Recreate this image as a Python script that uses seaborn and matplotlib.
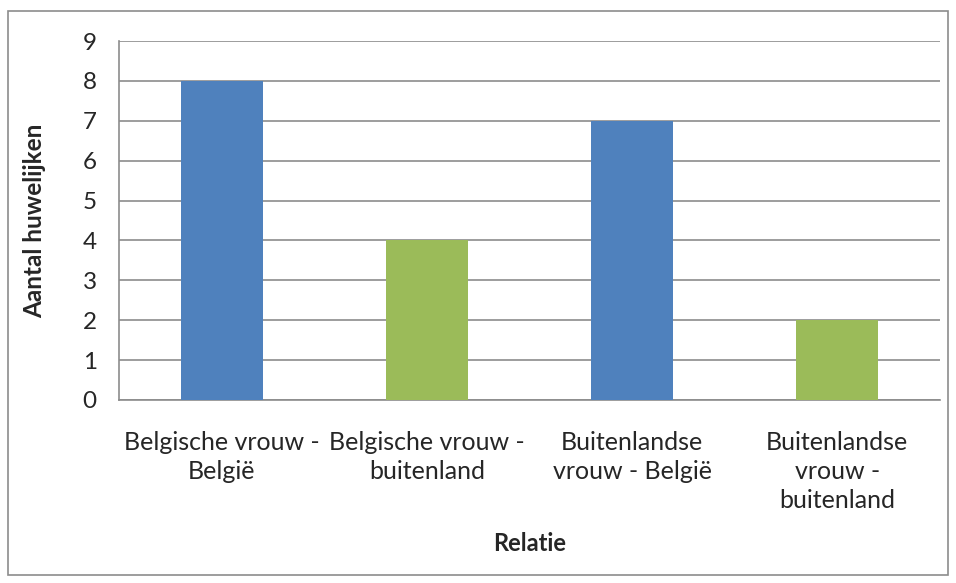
import matplotlib
matplotlib.use("Agg")
import matplotlib.pyplot as plt
import seaborn as sns
from matplotlib.patches import Rectangle

categories = ["Belgische vrouw -\nBelgië", "Belgische vrouw -\nbuitenland",
              "Buitenlandse\nvrouw - België", "Buitenlandse\nvrouw -\nbuitenland"]
values = [8, 4, 7, 2]
colors = ["#4F81BD", "#9BBB59", "#4F81BD", "#9BBB59"]

sns.set_style("white")
plt.rcParams['font.family'] = ['Lato', 'DejaVu Sans']

fig = plt.figure(figsize=(9.56, 5.83), dpi=100)
ax = fig.add_axes([119/956, 1-400/583, (940-119)/956, (400-41)/583])

sns.barplot(x=categories, y=values, hue=categories, palette=colors,
            width=0.4, legend=False, saturation=1, linewidth=0, ax=ax, zorder=3)

ax.set_ylim(0, 9)
ax.set_yticks(range(0, 10))
ax.yaxis.grid(True, color="#8c8c8c", linewidth=1.2, zorder=0)
ax.set_axisbelow(True)
for s in ["top", "right"]:
    ax.spines[s].set_visible(False)
for s in ["left", "bottom"]:
    ax.spines[s].set_color("#8c8c8c")
    ax.spines[s].set_linewidth(1.2)
ax.tick_params(axis="y", length=8, width=1.2, color="#8c8c8c", labelsize=17.5, pad=8)
ax.tick_params(axis="x", length=0, labelsize=18, pad=22)
for lbl in ax.get_xticklabels():
    lbl.set_linespacing(1.33)

ax.set_ylabel("Aantal huwelijken", fontsize=17.5, fontweight="bold", labelpad=26)
ax.set_xlabel("Relatie", fontsize=17, fontweight="bold", labelpad=14)

fig.patches.append(Rectangle((8/956, 1-575/583), (948-8)/956, (575-11)/583,
                             transform=fig.transFigure, fill=False,
                             edgecolor="#8c8c8c", linewidth=1.2))

fig.savefig("out.png", dpi=100)
